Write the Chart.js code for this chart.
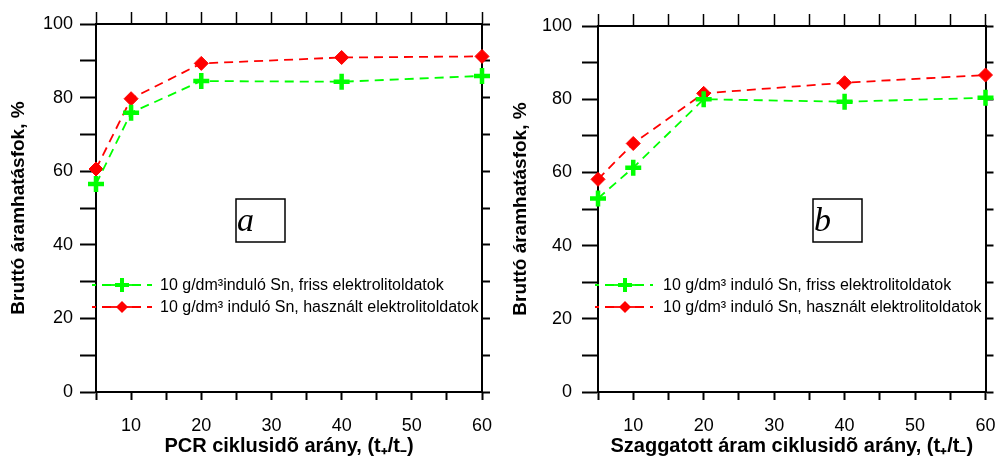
<!DOCTYPE html>
<html lang="hu">
<head>
<meta charset="UTF-8">
<title>Bruttó áramhatásfok</title>
<script src="https://cdn.jsdelivr.net/npm/chart.js"></script>
<style>
  body { margin: 0; background: #fff; }
  #wrap { position: relative; width: 998px; height: 459px; }
  canvas { position: absolute; top: 0; }
</style>
</head>
<body>
<div id="wrap">
  <canvas id="chartA" style="left:0" width="498" height="459"></canvas>
  <canvas id="chartB" style="left:498px" width="500" height="459"></canvas>
</div>
<script>
// ciklusidő arány (x)
const ratios = [5, 10, 20, 40, 60];

// a) PCR
const freshA = [56.5, 75.9, 84.5, 84.3, 85.9];
const usedA  = [60.6, 79.7, 89.3, 90.9, 91.2];

// b) szaggatott áram
const freshB = [52.9, 61.3, 80.0, 79.3, 80.4];
const usedB  = [58.1, 67.9, 81.6, 84.5, 86.6];

const yTitle = "Bruttó áramhatásfok, %";
const xTitleA = "PCR ciklusidõ arány, (t₊/t₋)";
const xTitleB = "Szaggatott áram ciklusidõ arány, (t₊/t₋)";
const legendA = ["10 g/dm³induló Sn, friss elektrolitoldatok", "10 g/dm³ induló Sn, használt elektrolitoldatok"];
const legendB = ["10 g/dm³ induló Sn, friss elektrolitoldatok", "10 g/dm³ induló Sn, használt elektrolitoldatok"];

const FONT = "'Liberation Sans', Arial, sans-serif";
const GREEN = "#00ff00";
const RED = "#ff0000";

function toPoints(vals) {
    return ratios.map((r, i) => ({ x: r, y: vals[i] }));
}

function drawMarker(ctx, style, x, y, r, color) {
    ctx.save();
    ctx.setLineDash([]);
    ctx.strokeStyle = color;
    ctx.fillStyle = color;
    if (style === "cross") {
        ctx.lineWidth = 4;
        ctx.beginPath();
        ctx.moveTo(x - r, y); ctx.lineTo(x + r, y);
        ctx.moveTo(x, y - r); ctx.lineTo(x, y + r);
        ctx.stroke();
    } else {
        ctx.beginPath();
        ctx.moveTo(x - r, y); ctx.lineTo(x, y - r);
        ctx.lineTo(x + r, y); ctx.lineTo(x, y + r);
        ctx.closePath();
        ctx.fill();
    }
    ctx.restore();
}

// panel letter box + legend inside the plot
const panelDeco = {
    id: "panelDeco",
    afterDraw(chart, args, opts) {
        const ctx = chart.ctx;
        ctx.save();
        // letter box
        const b = opts.box;
        ctx.fillStyle = "#fff";
        ctx.fillRect(b.x, b.y, b.w, b.h);
        ctx.strokeStyle = "#000";
        ctx.lineWidth = 1.5;
        ctx.strokeRect(b.x, b.y, b.w, b.h);
        ctx.fillStyle = "#000";
        ctx.font = "italic 34px 'Liberation Serif', 'Times New Roman', serif";
        ctx.textBaseline = "alphabetic";
        ctx.textAlign = "left";
        ctx.fillText(b.letter, b.x + 1, b.y + 32);

        // legend
        const lg = opts.legend;
        chart.data.datasets.forEach((ds, i) => {
            const y = lg.y + i * lg.gap;
            ctx.strokeStyle = ds.borderColor;
            ctx.lineWidth = 1.8;
            ctx.setLineDash([9, 6]);
            ctx.lineDashOffset = 5;
            ctx.beginPath();
            ctx.moveTo(lg.x0, y);
            ctx.lineTo(lg.x1, y);
            ctx.stroke();
            ctx.setLineDash([]);
            ctx.beginPath();
            ctx.moveTo(lg.mx - 12, y);
            ctx.lineTo(lg.mx + 12, y);
            ctx.stroke();
            drawMarker(ctx, ds.pointStyle, lg.mx, y, ds.pointStyle === "cross" ? 7 : 6, ds.borderColor);
            ctx.fillStyle = "#000";
            ctx.font = "16px " + FONT;
            ctx.textBaseline = "middle";
            ctx.fillText(ds.label, lg.tx, y + 1);
        });
        ctx.restore();
    }
};

function makeChart(id, fresh, used, xTitle, labels, geo) {
    const tickFont = { family: FONT, size: 18 };
    return new Chart(document.getElementById(id), {
        type: "line",
        data: {
            datasets: [
                {
                    label: labels[0],
                    data: toPoints(fresh),
                    borderColor: GREEN,
                    backgroundColor: GREEN,
                    borderWidth: 1.8,
                    borderDash: [9, 6],
                    pointStyle: "cross",
                    pointRadius: 8,
                    pointBorderWidth: 4.5,
                    pointBorderColor: GREEN,
                    tension: 0,
                    fill: false,
                    clip: false
                },
                {
                    label: labels[1],
                    data: toPoints(used),
                    borderColor: RED,
                    backgroundColor: RED,
                    borderWidth: 1.8,
                    borderDash: [9, 6],
                    pointStyle: "rectRot",
                    pointRadius: 7,
                    pointBorderWidth: 1,
                    pointBorderColor: RED,
                    pointBackgroundColor: RED,
                    tension: 0,
                    fill: false,
                    clip: false
                }
            ]
        },
        options: {
            responsive: false,
            devicePixelRatio: 1,
            animation: false,
            layout: { padding: 0 },
            plugins: {
                legend: { display: false },
                tooltip: { enabled: false },
                panelDeco: { box: geo.box, legend: geo.legend }
            },
            scales: {
                x: {
                    type: "linear",
                    position: "bottom",
                    min: 5, max: 60,
                    ticks: {
                        stepSize: 5,
                        autoSkip: false,
                        maxRotation: 0,
                        color: "#000",
                        font: tickFont,
                        padding: 15,
                        callback: v => (v % 10 === 0 ? v : "")
                    },
                    grid: { drawOnChartArea: false, tickLength: 8, tickColor: "#000", tickWidth: 2 },
                    border: { color: "#000", width: 2 },
                    title: {
                        display: true,
                        text: xTitle,
                        color: "#000",
                        font: { family: FONT, size: 20, weight: "bold" },
                        padding: 1
                    },
                    afterFit(s) { s.height = geo.bottom; s.paddingLeft = 0; s.paddingRight = 0; }
                },
                x2: {
                    type: "linear",
                    position: "top",
                    min: 5, max: 60,
                    ticks: { stepSize: 5, display: false },
                    grid: { drawOnChartArea: false, tickLength: 12, tickColor: "#000", tickWidth: 1.5 },
                    border: { color: "#000", width: 2 },
                    afterFit(s) { s.height = geo.top; s.paddingLeft = 0; s.paddingRight = 0; }
                },
                y: {
                    type: "linear",
                    position: "left",
                    min: 0, max: 100,
                    ticks: {
                        stepSize: 10,
                        color: "#000",
                        font: tickFont,
                        padding: geo.yPad,
                        callback: v => (v % 20 === 0 ? v : "")
                    },
                    grid: { drawOnChartArea: false, tickLength: 16, tickColor: "#000", tickWidth: 2 },
                    border: { color: "#000", width: 2 },
                    title: {
                        display: true,
                        text: yTitle,
                        color: "#000",
                        font: { family: FONT, size: 19, weight: "bold" },
                        padding: geo.yTitlePad
                    },
                    afterFit(s) { s.width = geo.left; s.paddingTop = 0; s.paddingBottom = 0; }
                },
                y2: {
                    type: "linear",
                    position: "right",
                    min: 0, max: 100,
                    ticks: { stepSize: 10, display: false },
                    grid: { drawOnChartArea: false, tickLength: 8, tickColor: "#000", tickWidth: 2 },
                    border: { color: "#000", width: 2 },
                    afterFit(s) { s.width = geo.right; s.paddingTop = 0; s.paddingBottom = 0; }
                }
            }
        },
        plugins: [panelDeco]
    });
}

makeChart("chartA", freshA, usedA, xTitleA, legendA, {
    left: 96, right: 16, top: 24, bottom: 67,
    yPad: 7, yTitlePad: 7,
    box: { x: 236, y: 199, w: 49, h: 43, letter: "a" },
    legend: { x0: 92, x1: 152, mx: 122, tx: 160, y: 285, gap: 22 }
});

makeChart("chartB", freshB, usedB, xTitleB, legendB, {
    left: 100, right: 9, top: 26, bottom: 67,
    yPad: 10, yTitlePad: 11,
    box: { x: 315, y: 199, w: 49, h: 43, letter: "b" },
    legend: { x0: 97, x1: 155, mx: 127, tx: 165, y: 285, gap: 22 }
});
</script>
</body>
</html>
